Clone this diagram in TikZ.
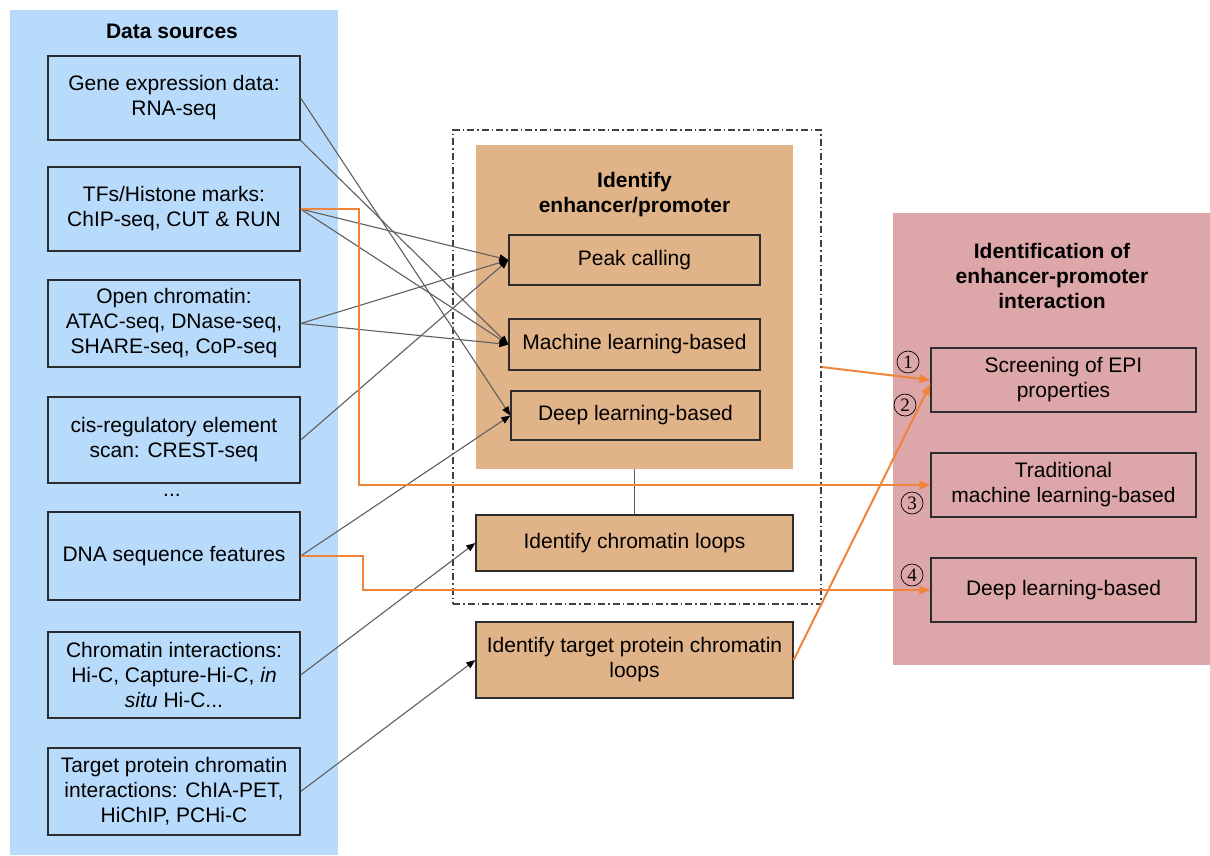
\documentclass[tikz,border=0pt]{standalone}
\usepackage{fontspec}
\setmainfont{Liberation Sans}
\newfontfamily\serifnum{Liberation Serif}
\usetikzlibrary{arrows.meta,calc}
\definecolor{bluebg}{RGB}{185,219,251}
\definecolor{orfill}{RGB}{225,179,136}
\definecolor{pinkfill}{RGB}{221,166,168}
\definecolor{boxline}{RGB}{45,45,45}
\definecolor{glinecol}{RGB}{95,95,95}
\definecolor{ocol}{RGB}{239,133,58}
\begin{document}
\begin{tikzpicture}[x=1pt,y=-1pt,
  font=\fontsize{21}{25}\selectfont,
  srcbox/.style={draw=boxline, line width=1.3pt, fill=bluebg, align=center, inner sep=2pt},
  mbox/.style={draw=boxline, line width=1.3pt, fill=orfill, align=center, inner sep=2pt},
  rbox/.style={draw=boxline, line width=1.3pt, fill=pinkfill, align=center, inner sep=2pt},
  ttl/.style={font=\fontsize{21}{25}\selectfont\bfseries, align=center},
  gline/.style={draw=glinecol, line width=1.1pt, -{Triangle[length=9pt,width=7pt,color=black]}},
  oline/.style={draw=ocol, line width=2pt, -{Triangle[length=11pt,width=8.5pt]}},
  cnum/.style={circle, draw=black, line width=0.7pt, inner sep=0pt, minimum size=22pt, font=\serifnum\fontsize{19}{19}\selectfont}
]
\useasboundingbox (0,0) rectangle (1210,855);
\fill[white] (0,0) rectangle (1210,855);

% panels
\fill[bluebg] (10,10) rectangle (338,855);
\fill[pinkfill] (893,213) rectangle (1210,665);

\node[ttl] (dstitle) at (172,31) {Data sources};

% source boxes
\node[srcbox, minimum width=252pt, minimum height=84pt] (gene) at (174,98) {Gene expression data:\\RNA-seq};
\node[srcbox, minimum width=252pt, minimum height=84pt] (tfs) at (174,209) {TFs/Histone marks:\\ChIP-seq, CUT \& RUN};
\node[srcbox, minimum width=252pt, minimum height=87pt] (open) at (174,323.5) {Open chromatin:\\ATAC-seq, DNase-seq,\\SHARE-seq, CoP-seq};
\node[srcbox, minimum width=252pt, minimum height=86pt] (cis) at (174,440) {cis-regulatory element\\scan: CREST-seq};
\node (dots) at (172,495) {...};
\node[srcbox, minimum width=252pt, minimum height=88pt] (dna) at (174,556) {DNA sequence features};
\node[srcbox, minimum width=252pt, minimum height=86pt] (chrom) at (174,675) {Chromatin interactions:\\Hi-C, Capture-Hi-C, \textit{in}\\\textit{situ} Hi-C...};
\node[srcbox, minimum width=252pt, minimum height=87pt] (target) at (174,791.5) {Target protein chromatin\\interactions: ChIA-PET,\\HiChIP, PCHi-C};

% middle group
\node[draw=black!75, line width=1.2pt, dash pattern=on 7pt off 3pt on 1.5pt off 3pt, minimum width=368pt, minimum height=474pt] (grp) at (637,367) {};
\node[fill=orfill, minimum width=317pt, minimum height=324pt] (ep) at (634.5,307) {};
\node[ttl] (eptitle) at (634.5,195) {Identify\\enhancer/promoter};
\node[mbox, minimum width=251pt, minimum height=50pt] (peak) at (634.5,260) {Peak calling};
\node[mbox, minimum width=251pt, minimum height=51pt] (ml) at (634.5,344.5) {Machine learning-based};
\node[mbox, minimum width=249pt, minimum height=49pt] (dl) at (635.5,415.5) {Deep learning-based};
\node[mbox, minimum width=317pt, minimum height=56pt] (loops) at (634.5,543) {Identify chromatin loops};
\node[mbox, minimum width=317pt, minimum height=76pt] (tgt) at (634.5,660) {Identify target protein chromatin\\loops};
\draw[draw=glinecol, line width=1.1pt] (ep.south) -- (loops.north);

% right panel
\node[ttl] (rtitle) at (1052,276) {Identification of\\enhancer-promoter\\interaction};
\node[rbox, minimum width=265pt, minimum height=64pt] (scr) at (1063.5,380) {Screening of EPI\\properties};
\node[rbox, minimum width=265pt, minimum height=64pt] (trad) at (1063.5,485) {Traditional\\machine learning-based};
\node[rbox, minimum width=265pt, minimum height=64pt] (deepr) at (1063.5,590) {Deep learning-based};

\node[cnum] (n1) at (908,362) {1};
\node[cnum] (n2) at (905,405) {2};
\node[cnum] (n3) at (912,503) {3};
\node[cnum] (n4) at (912,575) {4};

% gray connectors
\draw[gline] (gene.east) -- (dl.west);
\draw[gline] (gene.south east) -- (ml.west);
\draw[gline] (tfs.east) -- (peak.west);
\draw[gline] (tfs.east) -- (ml.west);
\draw[gline] (open.east) -- (peak.west);
\draw[gline] (open.east) -- (ml.west);
\draw[gline] (cis.east) -- (peak.west);
\draw[gline] (dna.east) -- (dl.west);
\draw[gline] (chrom.east) -- (loops.west);
\draw[gline] (target.east) -- (tgt.west);

% orange connectors
\draw[oline] (tfs.east) -- ++(58,0) |- (trad.west);
\draw[oline] (dna.east) -- ++(62,0) |- (deepr.west);
\draw[oline] (grp.east) -- (scr.west);
\draw[oline] (tgt.east) -- ([yshift=-4pt]scr.west);
\end{tikzpicture}
\end{document}
